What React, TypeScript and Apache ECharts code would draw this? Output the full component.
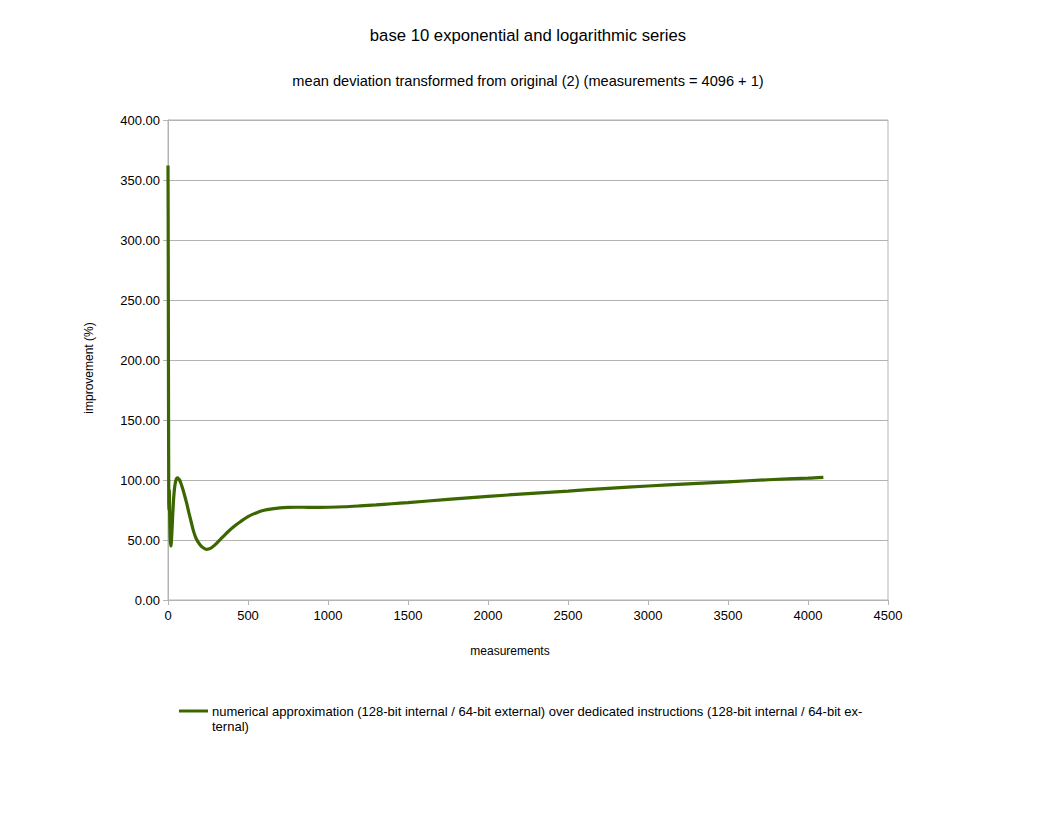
import React, { useEffect, useRef } from "react";
import * as echarts from "echarts";

const titleText = "base 10 exponential and logarithmic series";
const subtitleText = "mean deviation transformed from original (2) (measurements = 4096 + 1)";
const seriesName =
  "numerical approximation (128-bit internal / 64-bit external) over dedicated instructions (128-bit internal / 64-bit external)";
const legendLines = [
  "numerical approximation (128-bit internal / 64-bit external) over dedicated instructions (128-bit internal / 64-bit ex-",
  "ternal)",
];

const measurements = [
  0, 1, 2, 3, 4, 5, 6, 7, 8, 10, 12, 14, 17, 20, 25, 30, 35, 40, 45, 50, 55, 60, 65, 70, 80, 90, 100,
  117, 130, 145, 158, 175, 200, 220, 242, 265, 290, 320, 346, 380, 420, 450, 500, 554, 600, 650, 700,
  750, 800, 850, 900, 950, 1000, 1100, 1200, 1300, 1400, 1500, 1750, 2000, 2250, 2500, 2750, 3000,
  3250, 3500, 3750, 4000, 4096,
];
const improvement = [
  362, 320, 250, 180, 120, 80, 75, 90, 92, 75, 60, 50, 45, 47, 58, 72, 84, 92, 97, 100, 101.5, 101.8,
  101, 100.5, 97.5, 93.5, 89, 80.5, 73, 65, 58, 51.5, 46, 43.5, 42.2, 43, 45.5, 49.5, 53, 57.5, 62,
  65, 69.5, 72.8, 74.8, 76, 76.8, 77.2, 77.3, 77.3, 77.2, 77.2, 77.3, 77.7, 78.4, 79.2, 80.2, 81.2,
  83.8, 86.3, 88.7, 90.8, 93, 95, 96.8, 98.5, 100.2, 101.5, 102.2,
];
const xTicks = [0, 500, 1000, 1500, 2000, 2500, 3000, 3500, 4000, 4500];

const LINE_COLOR = "#3b6600";
const GRID_COLOR = "#b3b3b3";
const FONT = "Liberation Sans, Arial, sans-serif";

export default function App() {
  const ref = useRef<HTMLDivElement>(null);
  useEffect(() => {
    if (!ref.current) return;
    const chart = echarts.init(ref.current, undefined, { renderer: "svg" });
    const data = measurements.map((x, i) => [x, improvement[i]]);
    chart.setOption({
      animation: false,
      backgroundColor: "#ffffff",
      textStyle: { fontFamily: FONT },
      title: [
        {
          text: titleText,
          left: "center",
          top: 22,
          textStyle: { fontFamily: FONT, fontSize: 16.7, fontWeight: "normal", color: "#000" },
        },
        {
          text: subtitleText,
          left: "center",
          top: 68,
          textStyle: { fontFamily: FONT, fontSize: 14.6, fontWeight: "normal", color: "#000" },
        },
      ],
      grid: {
        left: 168,
        top: 120,
        width: 720,
        height: 480,
        show: true,
        borderColor: GRID_COLOR,
        borderWidth: 1,
        containLabel: false,
      },
      xAxis: {
        type: "value",
        min: xTicks[0],
        max: xTicks[xTicks.length - 1],
        interval: 500,
        name: "measurements",
        nameLocation: "middle",
        nameGap: 45,
        nameTextStyle: { fontFamily: FONT, fontSize: 12, color: "#000", padding: [0, 36, 0, 0] },
        axisLine: { show: true, lineStyle: { color: GRID_COLOR } },
        axisTick: { show: true, inside: false, length: 5, lineStyle: { color: GRID_COLOR } },
        axisLabel: {
          fontFamily: FONT,
          fontSize: 13,
          color: "#000",
          margin: 9,
          formatter: (v: number) => String(v),
        },
        splitLine: { show: false },
      },
      yAxis: {
        type: "value",
        min: 0,
        max: 400,
        interval: 50,
        name: "improvement (%)",
        nameLocation: "middle",
        nameRotate: 90,
        nameGap: 73,
        nameTextStyle: { fontFamily: FONT, fontSize: 12, color: "#000", padding: [0, 16, 0, 0] },
        axisLine: { show: true, lineStyle: { color: GRID_COLOR } },
        axisTick: { show: true, inside: false, length: 5, lineStyle: { color: GRID_COLOR } },
        axisLabel: {
          fontFamily: FONT,
          fontSize: 13,
          color: "#000",
          margin: 8,
          formatter: (v: number) => v.toFixed(2),
        },
        splitLine: { show: true, lineStyle: { color: GRID_COLOR, width: 1 } },
      },
      series: [
        {
          type: "line",
          name: seriesName,
          data,
          showSymbol: false,
          smooth: 0.3,
          lineStyle: { color: LINE_COLOR, width: 3.2 },
          itemStyle: { color: LINE_COLOR },
        },
      ],
      graphic: [
        {
          type: "line",
          shape: { x1: 179, y1: 711, x2: 208, y2: 711 },
          style: { stroke: LINE_COLOR, lineWidth: 3 },
        },
        {
          type: "text",
          x: 212,
          y: 704,
          style: {
            text: legendLines.join("\n"),
            fontFamily: FONT,
            fontSize: 13,
            lineHeight: 15,
            fill: "#000",
            textVerticalAlign: "top",
          },
        },
      ],
    });
    return () => chart.dispose();
  }, []);
  return (
    <div
      ref={ref}
      style={{ position: "absolute", left: 0, top: 0, width: 1056, height: 816 }}
    />
  );
}
